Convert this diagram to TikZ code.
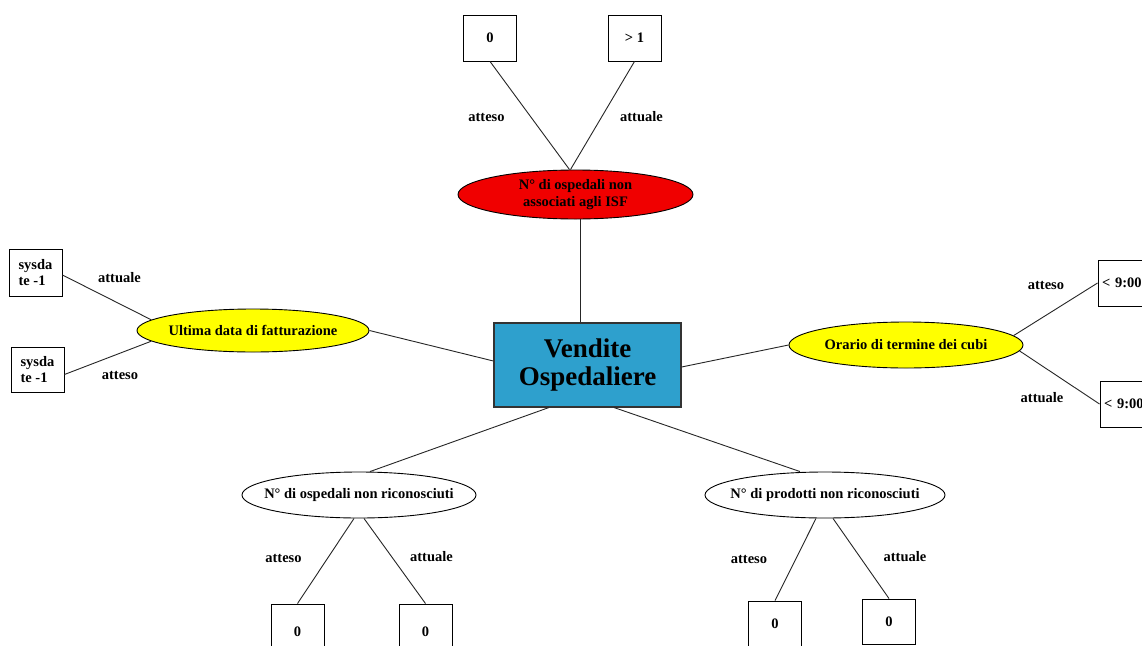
\documentclass[tikz,border=0pt]{standalone}
\usepackage{fontspec}
\setmainfont{Liberation Serif}
\usetikzlibrary{shapes.geometric,calc}
\definecolor{hubblue}{RGB}{46,160,205}
\definecolor{alertred}{RGB}{240,0,0}
\definecolor{warnyellow}{RGB}{255,255,0}

\begin{document}
\begin{tikzpicture}[x=1pt,y=-1pt,
  every node/.style={font=\fontsize{14.5}{16.5}\selectfont\bfseries, text=black},
  oval/.style={ellipse, draw=black, line width=0.9pt, inner sep=0pt},
  valbox/.style={draw=black, line width=0.9pt, fill=white, inner sep=0pt, minimum width=53pt},
  link/.style={draw=black!85, line width=0.9pt},
  lbl/.style={inner sep=0pt},
]
\clip (0,0) rectangle (1142,645);
\fill[white] (0,0) rectangle (1142,645);

% central subject
\node[draw=black!80, line width=1.2pt, fill=hubblue, minimum width=187pt,
      minimum height=84pt, inner sep=0pt, align=center,
      font=\fontsize{27}{28.5}\selectfont\bfseries] (hub) at (587.5,365) {Vendite\\Ospedaliere};

% indicators
\node[oval, fill=alertred, minimum width=235pt, minimum height=49pt, align=center]
  (isf) at (575.5,194.5) {N° di ospedali non\\associati agli ISF};
\node[oval, fill=warnyellow, minimum width=232pt, minimum height=43pt]
  (fat) at (253,330.5) {\makebox[0pt]{Ultima data di fatturazione}};
\node[oval, fill=warnyellow, minimum width=234pt, minimum height=46pt]
  (cubi) at (906,345) {\makebox[0pt]{Orario di termine dei cubi}};
\node[oval, fill=white, minimum width=234pt, minimum height=46pt]
  (osp) at (359,495) {\makebox[0pt]{\strut N° di ospedali non riconosciuti}};
\node[oval, fill=white, minimum width=240pt, minimum height=46pt]
  (prod) at (825,495) {\makebox[0pt]{\strut N° di prodotti non riconosciuti}};

% values
\node[valbox, minimum height=46pt] (isfA) at (490,38) {0};
\node[valbox, minimum height=46pt] (isfB) at (634.5,38) {> 1};
\node[valbox, minimum height=47pt, align=left] (fatA) at (35.5,272.5) {sysda\\te -1};
\node[valbox, minimum height=45pt, align=left] (fatB) at (37.5,369.5) {sysda\\te -1};
\node[valbox, minimum height=46pt, text width=45pt, inner xsep=4pt, align=left]
  (cubiA) at (1124.5,283) {< 9:00};
\node[valbox, minimum height=46pt, text width=45pt, inner xsep=4pt, align=left]
  (cubiB) at (1126.5,404) {< 9:00};
\node[valbox, minimum height=56pt] (ospA) at (297.5,632) {0};
\node[valbox, minimum height=56pt] (ospB) at (425.5,632) {0};
\node[valbox, minimum height=46pt] (prodA) at (775,624) {0};
\node[valbox, minimum height=45pt] (prodB) at (889,621.5) {0};

% connectors
\draw[link] (isfA.south) -- ($(isf.north)+(-6,0)$);
\draw[link] (isfB.south) -- ($(isf.north)+(-5,0)$);
\draw[link] ($(isf.south)+(4.5,0)$) -- ($(hub.north)+(-7.5,0)$);

\draw[link] (fat.east) -- ($(hub.west)+(0,-4)$);
\draw[link] (fat.174) -- ($(fatA.east)+(0,2.5)$);
\draw[link] (fat.186) -- ($(fatB.east)+(0,5)$);

\draw[link] ($(hub.east)+(0,2)$) -- (cubi.west);
\draw[link] (cubi.5) -- (cubiA.west);
\draw[link] (cubi.357) -- (cubiB.west);

\draw[link] ($(hub.south west)!0.294!(hub.south east)$) -- ($(osp.north)+(11,0)$);
\draw[link] ($(osp.south)+(-5,0)$) -- (ospA.north);
\draw[link] ($(osp.south)+(5,0)$) -- (ospB.north);

\draw[link] ($(hub.south west)!0.642!(hub.south east)$) -- ($(prod.north)+(-25,0)$);
\draw[link] ($(prod.south)+(-9,0)$) -- (prodA.north);
\draw[link] ($(prod.south)+(8,0)$) -- (prodB.north);

% labels
\node[lbl] (lA1) at (486.5,117) {atteso};
\node[lbl] (lA2) at (641.5,117) {attuale};
\node[lbl] (lB1) at (119.5,278) {attuale};
\node[lbl] (lB2) at (120,375) {atteso};
\node[lbl] (lC1) at (1046,285) {atteso};
\node[lbl] (lC2) at (1042,398) {attuale};
\node[lbl] (lD1) at (283.5,558) {atteso};
\node[lbl] (lD2) at (431.5,557) {attuale};
\node[lbl] (lE1) at (749,559) {atteso};
\node[lbl] (lE2) at (905,557) {attuale};
\end{tikzpicture}
\end{document}
